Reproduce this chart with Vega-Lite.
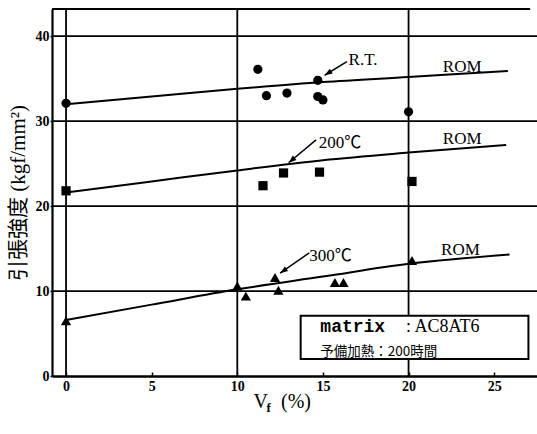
{
  "$schema": "https://vega.github.io/schema/vega-lite/v6.json",
  "width": 485,
  "height": 367,
  "autosize": {"type": "none"},
  "padding": {"left": 52, "top": 9, "right": 0, "bottom": 58},
  "background": "white",
  "config": {"view": {"stroke": null}, "font": "Liberation Serif"},
  "datasets": {
    "pts": [
      {"s": "RT", "vf": 0, "ts": 32.1},
      {"s": "RT", "vf": 11.2, "ts": 36.1},
      {"s": "RT", "vf": 11.7, "ts": 33.0},
      {"s": "RT", "vf": 12.9, "ts": 33.3},
      {"s": "RT", "vf": 14.7, "ts": 34.8},
      {"s": "RT", "vf": 14.7, "ts": 32.9},
      {"s": "RT", "vf": 15.0, "ts": 32.5},
      {"s": "RT", "vf": 20.0, "ts": 31.1},
      {"s": "200", "vf": 0, "ts": 21.8},
      {"s": "200", "vf": 11.5, "ts": 22.4},
      {"s": "200", "vf": 12.7, "ts": 23.9},
      {"s": "200", "vf": 14.8, "ts": 24.0},
      {"s": "200", "vf": 20.2, "ts": 22.9},
      {"s": "300", "vf": 0, "ts": 6.5},
      {"s": "300", "vf": 10.0, "ts": 10.6},
      {"s": "300", "vf": 10.5, "ts": 9.4},
      {"s": "300", "vf": 12.2, "ts": 11.6},
      {"s": "300", "vf": 12.4, "ts": 10.1},
      {"s": "300", "vf": 15.7, "ts": 11.0},
      {"s": "300", "vf": 16.2, "ts": 11.0},
      {"s": "300", "vf": 20.2, "ts": 13.6}
    ],
    "rom": [
      {"s": "RT", "vf": 0, "ts": 32.0},
      {"s": "RT", "vf": 5, "ts": 32.9},
      {"s": "RT", "vf": 10, "ts": 33.8},
      {"s": "RT", "vf": 15, "ts": 34.6},
      {"s": "RT", "vf": 20, "ts": 35.2},
      {"s": "RT", "vf": 25.8, "ts": 35.9},
      {"s": "200", "vf": 0, "ts": 21.6},
      {"s": "200", "vf": 5, "ts": 22.9},
      {"s": "200", "vf": 10, "ts": 24.2},
      {"s": "200", "vf": 15, "ts": 25.4},
      {"s": "200", "vf": 20, "ts": 26.3},
      {"s": "200", "vf": 25.7, "ts": 27.2},
      {"s": "300", "vf": 0, "ts": 6.6},
      {"s": "300", "vf": 5, "ts": 8.4},
      {"s": "300", "vf": 10, "ts": 10.2},
      {"s": "300", "vf": 15, "ts": 11.7},
      {"s": "300", "vf": 20, "ts": 13.2},
      {"s": "300", "vf": 25.9, "ts": 14.3}
    ],
    "vgrid": [{"vf": 0}, {"vf": 10}, {"vf": 20}],
    "hgrid": [{"ts": 10}, {"ts": 20}, {"ts": 30}, {"ts": 40}],
    "arrows": [
      {"s": "RT", "vf": 16.4, "ts": 37.0, "vf2": 15.1, "ts2": 35.4},
      {"s": "200", "vf": 14.6, "ts": 27.8, "vf2": 13.0, "ts2": 25.1},
      {"s": "300", "vf": 14.2, "ts": 14.5, "vf2": 12.5, "ts2": 12.1}
    ],
    "labels": [
      {"text": "R.T.", "vf": 16.5, "ts": 37.2},
      {"text": "200℃", "vf": 14.75, "ts": 27.4},
      {"text": "300℃", "vf": 14.2, "ts": 14.1},
      {"text": "ROM", "vf": 22.0, "ts": 36.4},
      {"text": "ROM", "vf": 22.0, "ts": 27.9},
      {"text": "ROM", "vf": 21.9, "ts": 14.8}
    ]
  },
  "layer": [
    {
      "data": {"name": "vgrid"},
      "mark": {"type": "rule", "color": "black", "strokeWidth": 1.8},
      "encoding": {
        "x": {"field": "vf", "type": "quantitative", "scale": {"domain": [-0.82, 27.5], "nice": false, "zero": false}}
      }
    },
    {
      "data": {"name": "hgrid"},
      "mark": {"type": "rule", "color": "black", "strokeWidth": 1.8},
      "encoding": {
        "y": {"field": "ts", "type": "quantitative", "scale": {"domain": [0, 43.2], "nice": false}}
      }
    },
    {
      "data": {"values": [{}]},
      "mark": {"type": "rule", "color": "black", "strokeWidth": 2},
      "encoding": {
        "x": {"datum": -0.82},
        "x2": {"datum": 27.1},
        "y": {"datum": 43.2}
      }
    },
    {
      "data": {"name": "rom"},
      "mark": {"type": "line", "color": "black", "strokeWidth": 2, "interpolate": "monotone"},
      "encoding": {
        "x": {"field": "vf", "type": "quantitative"},
        "y": {"field": "ts", "type": "quantitative"},
        "detail": {"field": "s"}
      }
    },
    {
      "data": {"name": "pts"},
      "transform": [{"filter": "datum.s != '300'"}],
      "mark": {"type": "point", "filled": true, "color": "black", "opacity": 1, "size": 85},
      "encoding": {
        "x": {
          "field": "vf", "type": "quantitative",
          "axis": {
            "values": [0, 5, 10, 15, 20, 25], "grid": false,
            "domainColor": "black", "domainWidth": 2.5,
            "tickColor": "black", "tickSize": -4, "tickWidth": 1.5,
            "labelFont": "Liberation Serif", "labelFontSize": 14, "labelFontWeight": "bold",
            "labelColor": "black", "labelPadding": 7,
            "title": null
          }
        },
        "y": {
          "field": "ts", "type": "quantitative",
          "axis": {
            "values": [0, 10, 20, 30, 40], "grid": false,
            "domainColor": "black", "domainWidth": 2.2,
            "tickColor": "black", "tickSize": 2, "tickWidth": 1.5,
            "labelFont": "Liberation Serif", "labelFontSize": 14, "labelFontWeight": "bold",
            "labelColor": "black", "labelPadding": 1,
            "title": "引張強度 (kgf/mm²)",
            "titleFont": "Liberation Serif, Noto Sans CJK JP", "titleFontSize": 21,
            "titleFontWeight": "normal", "titleColor": "black", "titlePadding": 7
          }
        },
        "shape": {
          "field": "s", "type": "nominal",
          "scale": {"domain": ["RT", "200"], "range": ["circle", "square"]},
          "legend": null
        }
      }
    },
    {
      "data": {"name": "pts"},
      "transform": [{"filter": "datum.s == '300'"}],
      "mark": {"type": "point", "shape": "triangle-up", "filled": true, "color": "black", "opacity": 1, "size": 105},
      "encoding": {
        "x": {"field": "vf", "type": "quantitative"},
        "y": {"field": "ts", "type": "quantitative"}
      }
    },
    {
      "data": {"name": "arrows"},
      "mark": {"type": "rule", "color": "black", "strokeWidth": 1.5},
      "encoding": {
        "x": {"field": "vf", "type": "quantitative"},
        "y": {"field": "ts", "type": "quantitative"},
        "x2": {"field": "vf2"},
        "y2": {"field": "ts2"}
      }
    },
    {
      "data": {"name": "arrows"},
      "transform": [{"filter": "datum.s == 'RT'"}],
      "mark": {"type": "point", "filled": true, "color": "black", "opacity": 1, "shape": "M0,0L0.4,1.1L-0.4,1.1Z", "size": 200, "angle": 238.5},
      "encoding": {
        "x": {"field": "vf2", "type": "quantitative"},
        "y": {"field": "ts2", "type": "quantitative"}
      }
    },
    {
      "data": {"name": "arrows"},
      "transform": [{"filter": "datum.s == '200'"}],
      "mark": {"type": "point", "filled": true, "color": "black", "opacity": 1, "shape": "M0,0L0.4,1.1L-0.4,1.1Z", "size": 200, "angle": 230},
      "encoding": {
        "x": {"field": "vf2", "type": "quantitative"},
        "y": {"field": "ts2", "type": "quantitative"}
      }
    },
    {
      "data": {"name": "arrows"},
      "transform": [{"filter": "datum.s == '300'"}],
      "mark": {"type": "point", "filled": true, "color": "black", "opacity": 1, "shape": "M0,0L0.4,1.1L-0.4,1.1Z", "size": 200, "angle": 235},
      "encoding": {
        "x": {"field": "vf2", "type": "quantitative"},
        "y": {"field": "ts2", "type": "quantitative"}
      }
    },
    {
      "data": {"name": "labels"},
      "mark": {"type": "text", "align": "left", "baseline": "middle", "font": "Liberation Serif, Noto Sans CJK JP", "fontSize": 17, "color": "black"},
      "encoding": {
        "x": {"field": "vf", "type": "quantitative"},
        "y": {"field": "ts", "type": "quantitative"},
        "text": {"field": "text"}
      }
    },
    {
      "data": {"values": [{}]},
      "mark": {"type": "rect", "fill": "white", "stroke": "black", "strokeWidth": 2},
      "encoding": {
        "x": {"datum": 13.7},
        "x2": {"datum": 27.0},
        "y": {"datum": 7.1},
        "y2": {"datum": 2.0}
      }
    },
    {
      "data": {"values": [{"text": "matrix", "vf": 14.85, "ts": 5.8}]},
      "mark": {"type": "text", "align": "left", "baseline": "middle", "font": "Liberation Mono", "fontWeight": "bold", "fontSize": 18, "color": "black"},
      "encoding": {
        "x": {"field": "vf", "type": "quantitative"},
        "y": {"field": "ts", "type": "quantitative"},
        "text": {"field": "text"}
      }
    },
    {
      "data": {"values": [{"text": ": AC8AT6", "vf": 19.85, "ts": 5.8}]},
      "mark": {"type": "text", "align": "left", "baseline": "middle", "font": "Liberation Serif", "fontSize": 18, "color": "black"},
      "encoding": {
        "x": {"field": "vf", "type": "quantitative"},
        "y": {"field": "ts", "type": "quantitative"},
        "text": {"field": "text"}
      }
    },
    {
      "data": {"values": [{"text": "予備加熱：200時間", "vf": 14.85, "ts": 2.85}]},
      "mark": {"type": "text", "align": "left", "baseline": "middle", "font": "Noto Sans CJK JP", "fontSize": 13.5, "color": "black"},
      "encoding": {
        "x": {"field": "vf", "type": "quantitative"},
        "y": {"field": "ts", "type": "quantitative"},
        "text": {"field": "text"}
      }
    },
    {
      "data": {"values": [{"text": "V", "vf": 10.94, "ts": -3.1}, {"text": "(%)", "vf": 12.55, "ts": -3.1}]},
      "mark": {"type": "text", "align": "left", "baseline": "middle", "font": "Liberation Serif", "fontSize": 20, "color": "black"},
      "encoding": {
        "x": {"field": "vf", "type": "quantitative"},
        "y": {"field": "ts", "type": "quantitative"},
        "text": {"field": "text"}
      }
    },
    {
      "data": {"values": [{"text": "f", "vf": 11.7, "ts": -3.8}]},
      "mark": {"type": "text", "align": "left", "baseline": "middle", "font": "Liberation Serif", "fontWeight": "bold", "fontSize": 13, "color": "black"},
      "encoding": {
        "x": {"field": "vf", "type": "quantitative"},
        "y": {"field": "ts", "type": "quantitative"},
        "text": {"field": "text"}
      }
    }
  ]
}
